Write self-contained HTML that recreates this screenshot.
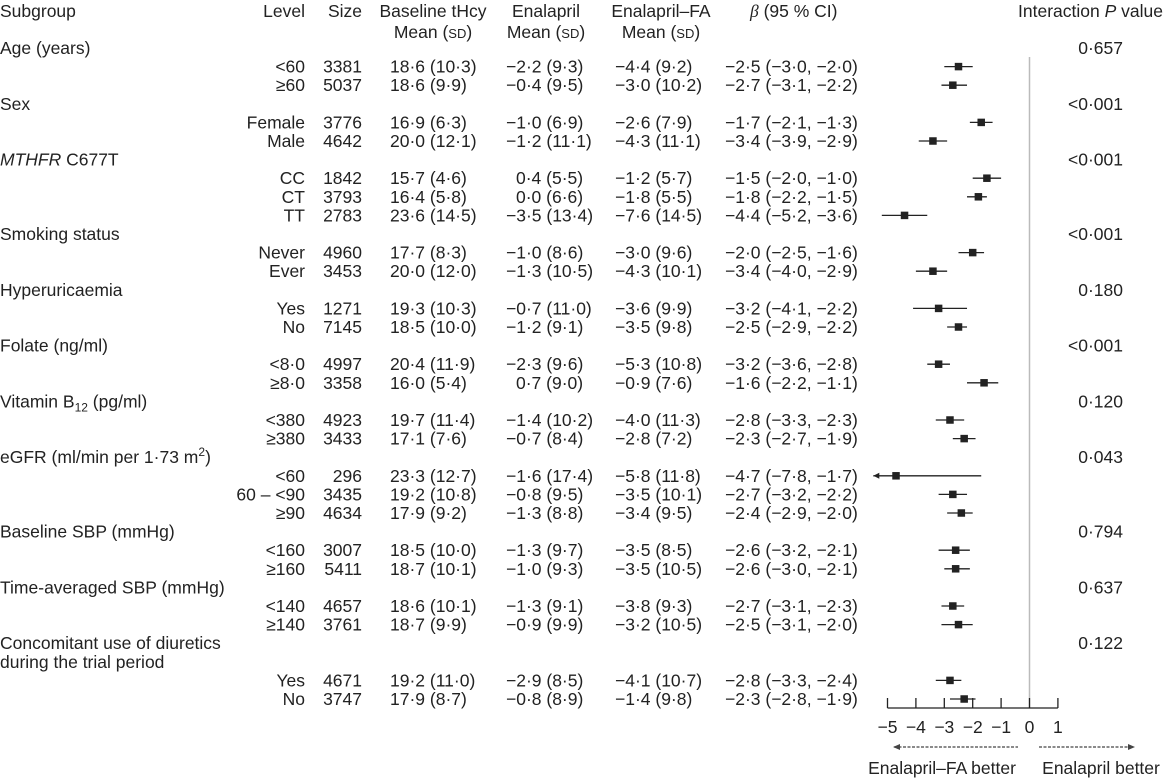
<!DOCTYPE html>
<html><head><meta charset="utf-8"><style>
body{margin:0;background:#fff;}
svg{display:block;font-family:"Liberation Sans",sans-serif;font-size:17.5px;fill:#222;}
.sc{font-size:13px;}
</style></head><body>
<svg id="c" width="1164" height="780" xmlns="http://www.w3.org/2000/svg">
<g>
<text x="0" y="17">Subgroup</text>
<text x="305" y="17" text-anchor="end">Level</text>
<text x="362" y="17" text-anchor="end">Size</text>
<text x="433" y="17" text-anchor="middle">Baseline tHcy</text>
<text x="433" y="38" text-anchor="middle">Mean (<tspan class="sc">SD</tspan>)</text>
<text x="546" y="17" text-anchor="middle">Enalapril</text>
<text x="546" y="38" text-anchor="middle">Mean (<tspan class="sc">SD</tspan>)</text>
<text x="661" y="17" text-anchor="middle">Enalapril–FA</text>
<text x="661" y="38" text-anchor="middle">Mean (<tspan class="sc">SD</tspan>)</text>
<text x="750" y="17"><tspan font-style="italic" font-family="Liberation Serif">β</tspan> (95 % CI)</text>
<text x="1163" y="17" text-anchor="end">Interaction <tspan font-style="italic">P</tspan> value</text>
</g>
<g id="rows"></g>
<g id="plot"></g>
</svg>
<script>
const labels=["Age (years)","<60","≥60","Sex","Female","Male","MTHFR C677T","CC","CT","TT","Smoking status","Never","Ever","Hyperuricaemia","Yes","No","Folate (ng/ml)","<8·0","≥8·0","Vitamin B12 (pg/ml)","<380","≥380","eGFR (ml/min per 1·73 m2)","<60","60 – <90","≥90","Baseline SBP (mmHg)","<160","≥160","Time-averaged SBP (mmHg)","<140","≥140","Concomitant use of diuretics","during the trial period","Yes","No"];
const isGroup=[1,0,0,1,0,0,1,0,0,0,1,0,0,1,0,0,1,0,0,1,0,0,1,0,0,0,1,0,0,1,0,0,1,1,0,0];
const sizes=["","3381","5037","","3776","4642","","1842","3793","2783","","4960","3453","","1271","7145","","4997","3358","","4923","3433","","296","3435","4634","","3007","5411","","4657","3761","","","4671","3747"];
const baseline=["","18·6 (10·3)","18·6 (9·9)","","16·9 (6·3)","20·0 (12·1)","","15·7 (4·6)","16·4 (5·8)","23·6 (14·5)","","17·7 (8·3)","20·0 (12·0)","","19·3 (10·3)","18·5 (10·0)","","20·4 (11·9)","16·0 (5·4)","","19·7 (11·4)","17·1 (7·6)","","23·3 (12·7)","19·2 (10·8)","17·9 (9·2)","","18·5 (10·0)","18·7 (10·1)","","18·6 (10·1)","18·7 (9·9)","","","19·2 (11·0)","17·9 (8·7)"];
const enal=["","−2·2 (9·3)","−0·4 (9·5)","","−1·0 (6·9)","−1·2 (11·1)","","0·4 (5·5)","0·0 (6·6)","−3·5 (13·4)","","−1·0 (8·6)","−1·3 (10·5)","","−0·7 (11·0)","−1·2 (9·1)","","−2·3 (9·6)","0·7 (9·0)","","−1·4 (10·2)","−0·7 (8·4)","","−1·6 (17·4)","−0·8 (9·5)","−1·3 (8·8)","","−1·3 (9·7)","−1·0 (9·3)","","−1·3 (9·1)","−0·9 (9·9)","","","−2·9 (8·5)","−0·8 (8·9)"];
const enalFA=["","−4·4 (9·2)","−3·0 (10·2)","","−2·6 (7·9)","−4·3 (11·1)","","−1·2 (5·7)","−1·8 (5·5)","−7·6 (14·5)","","−3·0 (9·6)","−4·3 (10·1)","","−3·6 (9·9)","−3·5 (9·8)","","−5·3 (10·8)","−0·9 (7·6)","","−4·0 (11·3)","−2·8 (7·2)","","−5·8 (11·8)","−3·5 (10·1)","−3·4 (9·5)","","−3·5 (8·5)","−3·5 (10·5)","","−3·8 (9·3)","−3·2 (10·5)","","","−4·1 (10·7)","−1·4 (9·8)"];
const beta=[null,-2.5,-2.7,null,-1.7,-3.4,null,-1.5,-1.8,-4.4,null,-2.0,-3.4,null,-3.2,-2.5,null,-3.2,-1.6,null,-2.8,-2.3,null,-4.7,-2.7,-2.4,null,-2.6,-2.6,null,-2.7,-2.5,null,null,-2.8,-2.3];
const lo=[null,-3.0,-3.1,null,-2.1,-3.9,null,-2.0,-2.2,-5.2,null,-2.5,-4.0,null,-4.1,-2.9,null,-3.6,-2.2,null,-3.3,-2.7,null,-7.8,-3.2,-2.9,null,-3.2,-3.0,null,-3.1,-3.1,null,null,-3.3,-2.8];
const hi=[null,-2.0,-2.2,null,-1.3,-2.9,null,-1.0,-1.5,-3.6,null,-1.6,-2.9,null,-2.2,-2.2,null,-2.8,-1.1,null,-2.3,-1.9,null,-1.7,-2.2,-2.0,null,-2.1,-2.1,null,-2.3,-2.0,null,null,-2.4,-1.9];
const pvals=["0·657","","","<0·001","","","<0·001","","","","<0·001","","","0·180","","","<0·001","","","0·120","","","0·043","","","","0·794","","","0·637","","","0·122","","","",""];
const ticks=[-5,-4,-3,-2,-1,0,1];
const tickLabels=["−5","−4","−3","−2","−1","0","1"];
const NS="http://www.w3.org/2000/svg";
const X=v=>1029.5+v*28.4;
const Y=i=>48+i*18.6;
const rows=document.getElementById('rows'),plot=document.getElementById('plot');
function mk(tag,attrs,parent,txt){const e=document.createElementNS(NS,tag);for(const k in attrs)e.setAttribute(k,attrs[k]);if(txt!==undefined)e.textContent=txt;parent.appendChild(e);return e;}
const zl=mk('line',{x1:X(0),x2:X(0),y1:57,y2:708,stroke:'#bbb','stroke-width':1.5},plot);


labels.forEach((l,i)=>{
  const y=Y(i)+6;
  if(isGroup[i]){
    let t=mk('text',{x:0,y:y},rows);
    if(l.startsWith('MTHFR')){mk('tspan',{'font-style':'italic'},t,'MTHFR');mk('tspan',{},t,' C677T');}
    else if(l.startsWith('Vitamin')){mk('tspan',{},t,'Vitamin B');mk('tspan',{'font-size':'12','dy':'4'},t,'12');mk('tspan',{'dy':'-4'},t,' (pg/ml)');}
    else if(l.startsWith('eGFR')){mk('tspan',{},t,'eGFR (ml/min per 1·73 m');mk('tspan',{'font-size':'12','dy':'-7'},t,'2');mk('tspan',{'dy':'7'},t,')');}
    else t.textContent=l;
    
    
  } else {
    const t=mk('text',{x:305,y:y,'text-anchor':'end'},rows,l);
    
    
    const s=mk('text',{x:362,y:y,'text-anchor':'end'},rows,sizes[i]);
    
    
    const b=mk('text',{x:390,y:y},rows,baseline[i]);
    
    
    const e=mk('text',{x:enal[i][0]==='−'?506:516,y:y},rows,enal[i]);
    
    
    const f=mk('text',{x:615,y:y},rows,enalFA[i]);
    
    
    if(beta[i]!==null){
      const f1=v=>(v<0?'−':'')+Math.abs(v).toFixed(1).replace('.','·');
      const c=mk('text',{x:725,y:y},rows,f1(beta[i])+' ('+f1(lo[i])+', '+f1(hi[i])+')');
      
      
      const xl=Math.max(X(lo[i]),X(-5.5));
      const ln=mk('line',{x1:xl,x2:X(hi[i]),y1:Y(i),y2:Y(i),stroke:'#222','stroke-width':1.3},plot);
      
      
      if(X(lo[i])<X(-5.5)){
        const ar=mk('path',{d:`M${xl} ${Y(i)} l6 -3 v6 z`,fill:'#222'},plot);
        
        
      }
      const sz=7.5;
      const r=mk('rect',{x:X(beta[i])-sz/2,y:Y(i)-sz/2,width:sz,height:sz,fill:'#222'},plot);
      
      
    }
  }
  if(pvals[i]){
    const p=mk('text',{x:1123,y:y,'text-anchor':'end'},rows,pvals[i]);
    
    
  }
});
const ay=708;
const ax=mk('line',{x1:X(-5),x2:X(1),y1:ay,y2:ay,stroke:'#222','stroke-width':1.3},plot);


ticks.forEach((t,k)=>{
  const tl=mk('line',{x1:X(t),x2:X(t),y1:ay,y2:ay-10,stroke:'#222','stroke-width':1.3},plot);
  
  
  const tx=mk('text',{x:X(t),y:733,'text-anchor':'middle'},plot,tickLabels[k]);
  
  
});
const a1=mk('line',{x1:894,x2:1018,y1:747,y2:747,stroke:'#444','stroke-width':1.2,'stroke-dasharray':'3 1.5'},plot);


mk('path',{d:'M893 747 l7 -3 v6 z',fill:'#444'},plot);
const a2=mk('line',{x1:1039,x2:1133,y1:747,y2:747,stroke:'#444','stroke-width':1.2,'stroke-dasharray':'3 1.5'},plot);


mk('path',{d:'M1135 747 l-7 -3 v6 z',fill:'#444'},plot);
const l1=mk('text',{x:942,y:774,'text-anchor':'middle'},plot,'Enalapril–FA better');


const l2=mk('text',{x:1101,y:774,'text-anchor':'middle'},plot,'Enalapril better');


</script>
</body></html>
